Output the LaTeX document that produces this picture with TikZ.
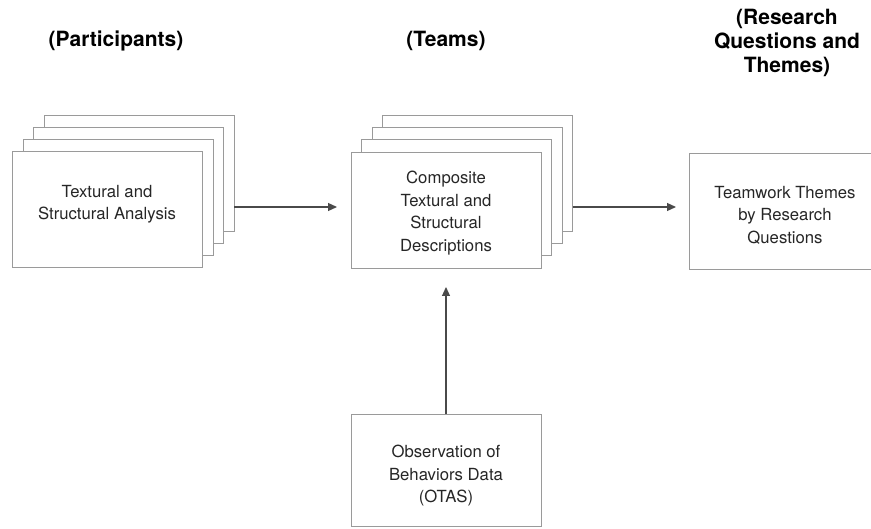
\documentclass[tikz,border=0pt]{standalone}
\usepackage{fontspec}
\setmainfont{TeX Gyre Heros}
\usetikzlibrary{arrows.meta}
\definecolor{boxline}{HTML}{9A9A9A}
\definecolor{bodytext}{HTML}{262626}
\definecolor{arrowline}{HTML}{4A4A4A}
\tikzset{
  card/.style={draw=boxline, line width=0.9pt, fill=white, minimum width=190pt,
    minimum height=116pt, inner sep=0pt, outer sep=0pt},
  label/.style={text=bodytext, align=center, font=\fontsize{16.7}{22.5}\selectfont},
  heading/.style={text=black, align=center, font=\bfseries\fontsize{21}{23.8}\selectfont},
  flow/.style={draw=arrowline, line width=1.2pt, -{Triangle[length=9pt,width=8pt]}}
}
\begin{document}
\begin{tikzpicture}[x=1pt, y=-1pt]
\useasboundingbox (0,0) rectangle (871,529);
\clip (0,0) rectangle (871,529);

% column headings
\node[heading] (h1) at (116,41) {(Participants)};
\node[heading] (h2) at (446,41) {(Teams)};
\node[heading] (h3) at (787,43) {(Research\\Questions and\\Themes)};

% participants stack
\node[card] (l3) at (139,173) {};
\node[card] (l2) at (128.5,185) {};
\node[card] (l1) at (118,197) {};
\node[card] (l0) at (107,209.5) {};
\node[label] (t0) at (107,204) {Textural and\\Structural Analysis};

% teams stack
\node[card] (m3) at (477.5,173.5) {};
\node[card] (m2) at (467,185.5) {};
\node[card] (m1) at (456.5,197.5) {};
\node[card] (m0) at (446,210) {};
\node[label] (t1) at (446,213) {Composite\\Textural and\\Structural\\Descriptions};

% themes box (runs past the right edge)
\node[card, minimum width=191pt] (r0) at (784.5,211) {};
\node[label] (t2) at (785,215) {Teamwork Themes\\by Research\\Questions};

% observation box (runs past the bottom edge)
\node[card, minimum height=112pt] (b0) at (446,470) {};
\node[label] (t3) at (446,476) {Observation of\\Behaviors Data\\(OTAS)};

% connectors
\coordinate (row) at (0,207);
\draw[flow, shorten >=14pt] (l3.east |- row) -- (m0.west |- row);
\draw[flow, shorten >=13pt] (m3.east |- row) -- (r0.west |- row);
\draw[flow, shorten >=19pt] (b0.north) -- (m0.south);
\end{tikzpicture}
\end{document}
